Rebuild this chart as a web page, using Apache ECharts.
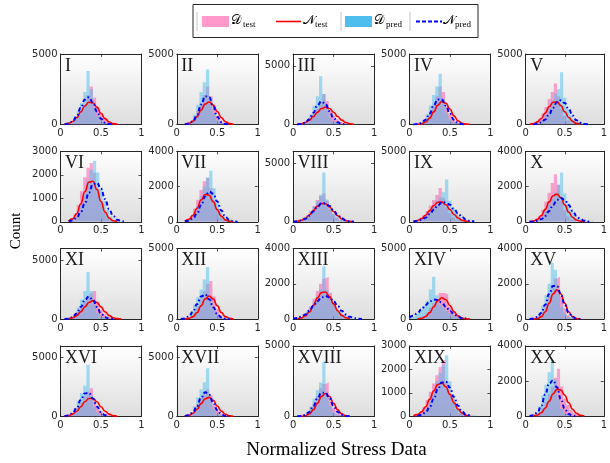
<!DOCTYPE html>
<html>
<head>
<meta charset="utf-8">
<script src="https://cdn.jsdelivr.net/npm/echarts@6/dist/echarts.min.js"></script>
<style>
  html, body { margin: 0; padding: 0; background: #fff; }
  #chart { width: 610px; height: 463px; }
</style>
</head>
<body>
<div id="chart"></div>
<script>
// panel names and y ranges
const panelNames = ['I', 'II', 'III', 'IV', 'V', 'VI', 'VII', 'VIII', 'IX', 'X',
  'XI', 'XII', 'XIII', 'XIV', 'XV', 'XVI', 'XVII', 'XVIII', 'XIX', 'XX'];
const yMaxes = [5000, 5000, 6000, 5000, 5000, 3000, 4000, 6000, 5000, 4000,
  6000, 5000, 4000, 5000, 4000, 6000, 6000, 5000, 3000, 4000];
const yTickSets = {
  3000: [0, 1000, 2000, 3000],
  4000: [0, 2000, 4000],
  5000: [0, 5000],
  6000: [0, 5000]
};

// histogram bin centres (bin width 0.04) and sample points of the normal fits
const binCenters = [0.02, 0.06, 0.10, 0.14, 0.18, 0.22, 0.26, 0.30, 0.34, 0.38, 0.42, 0.46, 0.50,
  0.54, 0.58, 0.62, 0.66, 0.70, 0.74, 0.78, 0.82, 0.86, 0.90, 0.94, 0.98];
const curveX = [0, 0.05, 0.1, 0.15, 0.2, 0.25, 0.3, 0.35, 0.4, 0.45, 0.5,
  0.55, 0.6, 0.65, 0.7, 0.75, 0.8, 0.85, 0.9, 0.95, 1];

// D_test histograms (counts per bin, missing bins are empty)
const testHist = [
  [0, 20, 60, 150, 320, 600, 950, 1400, 2100, 2700, 1900, 1200, 750, 420, 220, 120, 60, 30, 10],
  [0, 0, 20, 70, 220, 500, 950, 1500, 2100, 2700, 2000, 1100, 600, 280, 120, 50, 20, 8],
  [0, 20, 60, 150, 330, 600, 950, 1350, 1900, 2600, 2000, 1200, 750, 420, 220, 110, 50, 20, 5],
  [0, 0, 15, 50, 170, 420, 850, 1350, 2000, 2700, 2300, 1300, 700, 350, 150, 60, 25, 8],
  [0, 15, 55, 160, 400, 780, 1250, 1800, 2300, 2900, 2000, 1100, 600, 300, 130, 50, 20, 5],
  [0, 0, 30, 110, 320, 720, 1300, 1900, 2300, 2500, 2100, 1400, 800, 380, 140, 45, 10],
  [0, 0, 35, 130, 350, 750, 1250, 1800, 2300, 2500, 1900, 1100, 600, 260, 90, 30, 8],
  [10, 40, 110, 270, 550, 920, 1350, 1850, 2200, 2400, 1800, 1100, 650, 330, 150, 60, 25, 8],
  [0, 30, 85, 210, 440, 760, 1150, 1550, 1900, 2400, 1700, 1000, 600, 320, 140, 60, 25, 8],
  [0, 10, 45, 135, 330, 680, 1150, 1650, 2200, 2700, 2100, 1200, 650, 300, 130, 50, 15, 5],
  [0, 0, 35, 110, 280, 590, 1000, 1500, 1950, 2200, 2400, 1500, 800, 400, 160, 60, 20, 5],
  [0, 0, 10, 45, 165, 440, 900, 1450, 2000, 2500, 2700, 1600, 700, 270, 90, 25, 5],
  [0, 15, 55, 165, 390, 740, 1150, 1600, 2000, 2300, 2400, 1500, 850, 450, 200, 70, 20, 5],
  [0, 0, 12, 55, 175, 430, 820, 1150, 1400, 1850, 1850, 1750, 900, 500, 220, 80, 20, 5],
  [0, 0, 5, 30, 130, 390, 850, 1400, 1950, 2300, 2400, 1300, 600, 200, 60, 15],
  [0, 18, 65, 180, 420, 780, 1200, 1700, 2100, 2400, 1500, 800, 420, 190, 70, 20, 5],
  [0, 0, 22, 85, 250, 580, 1050, 1600, 2000, 2300, 1800, 950, 450, 180, 60, 15, 3],
  [0, 0, 10, 48, 170, 450, 900, 1450, 2000, 2300, 2400, 1300, 600, 200, 60, 15, 5],
  [0, 25, 70, 180, 390, 700, 1050, 1400, 1750, 2100, 2400, 1500, 950, 580, 300, 140, 55, 18, 5],
  [0, 0, 20, 70, 200, 450, 830, 1250, 1700, 2200, 2700, 1700, 1000, 650, 350, 160, 65, 20, 5]
];

// D_pred histograms
const predHist = [
  [0, 10, 50, 180, 450, 950, 1500, 2300, 3800, 2500, 1200, 600, 300, 120, 60, 30, 15, 5],
  [0, 0, 10, 50, 220, 700, 1400, 2300, 3000, 3900, 1900, 800, 300, 100, 40, 15, 5],
  [0, 5, 30, 130, 400, 900, 1600, 2400, 4100, 2600, 1300, 600, 250, 100, 40, 15, 5],
  [0, 5, 25, 100, 320, 750, 1350, 2100, 2700, 3600, 1800, 800, 380, 160, 80, 40, 15, 5],
  [0, 0, 10, 40, 130, 330, 680, 1150, 1700, 2200, 2500, 3700, 1900, 1100, 650, 350, 180, 100, 60, 30, 15],
  [0, 0, 15, 55, 160, 390, 780, 1250, 1750, 2200, 2600, 2100, 1400, 900, 500, 230, 90, 30, 8],
  [0, 0, 12, 55, 180, 460, 900, 1450, 2000, 2500, 2900, 1900, 1100, 620, 300, 150, 90, 40, 10],
  [10, 35, 95, 240, 500, 860, 1300, 1750, 2300, 4200, 1900, 1150, 700, 380, 180, 80, 35, 10],
  [0, 15, 50, 125, 270, 500, 830, 1150, 1500, 1750, 2100, 3000, 1500, 1000, 650, 380, 200, 100, 50, 20, 8],
  [0, 5, 18, 55, 145, 320, 600, 950, 1300, 1650, 2100, 2800, 1600, 1050, 700, 400, 220, 120, 60, 30, 12],
  [0, 5, 35, 150, 440, 980, 1650, 2400, 4000, 2400, 1200, 500, 180, 60, 20, 5],
  [0, 8, 45, 175, 500, 1020, 1550, 2100, 2800, 3700, 1500, 700, 300, 100, 30, 8],
  [20, 55, 125, 250, 450, 700, 980, 1300, 1700, 3000, 1650, 1150, 850, 600, 400, 230, 120, 60, 25, 10, 5],
  [100, 220, 400, 650, 950, 1300, 2100, 3000, 1700, 1000, 800, 600, 400, 250, 120, 50, 20, 5],
  [0, 5, 28, 110, 340, 780, 1350, 2000, 3200, 2800, 1400, 700, 300, 120, 50, 20, 5],
  [0, 15, 75, 270, 700, 1350, 2000, 2600, 4400, 1800, 800, 320, 100, 25, 5],
  [0, 0, 18, 90, 330, 860, 1600, 2300, 2900, 4100, 1700, 600, 180, 50, 12, 3],
  [0, 5, 25, 100, 300, 700, 1250, 1850, 2400, 3900, 1500, 700, 320, 120, 60, 30, 10],
  [0, 0, 15, 55, 160, 380, 720, 1100, 1500, 1850, 2200, 2600, 1500, 900, 500, 250, 120, 60, 50, 40, 20],
  [0, 10, 55, 210, 580, 1200, 1800, 2500, 3200, 2100, 1000, 420, 140, 35, 8]
];

// N_test normal fits, read at curveX (null = not drawn)
const testNormal = [
  [null, 24, 80, 216, 485, 883, 1307, 1574, 1541, 1229, 797, 419, 180, 63, 18],
  [null, null, 21, 80, 239, 559, 1019, 1446, 1598, 1376, 922, 481, 196, 62, 15],
  [null, 21, 65, 168, 369, 677, 1046, 1357, 1480, 1357, 1046, 677, 369, 168, 65, 21],
  [null, null, 13, 56, 181, 456, 895, 1369, 1632, 1514, 1094, 615, 269, 92, 25, 5],
  [null, 18, 64, 184, 430, 817, 1260, 1579, 1613, 1340, 905, 497, 221, 80, 24],
  [null, null, 35, 125, 348, 756, 1278, 1683, 1725, 1378, 857, 415, 157, 46, 11],
  [null, null, 41, 141, 373, 769, 1237, 1548, 1510, 1147, 679, 313, 112, 32, 7],
  [14, 46, 126, 296, 579, 959, 1334, 1558, 1531, 1264, 878, 514, 251, 104, 36, 10],
  [null, 33, 94, 227, 465, 795, 1144, 1386, 1410, 1207, 868, 523, 267, 114, 41, 12],
  [null, 13, 49, 146, 356, 703, 1131, 1479, 1573, 1362, 959, 548, 255, 98, 30, 8],
  [null, null, 38, 119, 300, 619, 1039, 1416, 1570, 1416, 1039, 619, 300, 119, 38, 10],
  [null, null, 11, 51, 179, 470, 942, 1428, 1640, 1428, 942, 470, 179, 51, 11],
  [null, 17, 61, 175, 409, 777, 1198, 1502, 1535, 1275, 861, 473, 211, 76, 23],
  [null, null, 14, 59, 186, 457, 876, 1307, 1518, 1374, 968, 531, 227, 76, 20, 4],
  [null, null, 6, 35, 141, 413, 896, 1423, 1660, 1423, 896, 413, 141, 35, 6],
  [null, 20, 69, 193, 443, 823, 1245, 1529, 1529, 1245, 823, 443, 193, 69, 20],
  [null, null, 24, 91, 267, 611, 1087, 1504, 1622, 1361, 890, 453, 179, 55, 13],
  [null, null, 11, 51, 177, 465, 930, 1411, 1620, 1411, 930, 465, 177, 51, 11],
  [null, 26, 77, 194, 409, 724, 1080, 1353, 1425, 1261, 939, 588, 309, 137, 51, 16],
  [null, null, 23, 76, 211, 473, 861, 1275, 1535, 1502, 1198, 777, 409, 175, 61, 17]
];

// N_pred normal fits
const predNormal = [
  [null, 11, 56, 211, 581, 1183, 1767, 1938, 1561, 925, 402, 128, 30, 5],
  [null, null, 7, 47, 217, 672, 1411, 2006, 1930, 1256, 553, 164, 34, 4],
  [null, 6, 36, 146, 449, 997, 1635, 1966, 1738, 1129, 538, 189, 49, 9],
  [null, 6, 29, 114, 344, 786, 1358, 1781, 1772, 1336, 764, 331, 109, 28, 5],
  [null, null, 12, 47, 144, 357, 721, 1185, 1582, 1718, 1518, 1090, 637, 302, 117, 37, 9],
  [null, null, 16, 58, 170, 407, 787, 1239, 1588, 1655, 1403, 967, 543, 247, 92, 28, 7],
  [null, null, 14, 58, 189, 478, 939, 1436, 1711, 1588, 1147, 645, 282, 96, 26, 5],
  [11, 36, 105, 254, 520, 889, 1280, 1551, 1578, 1351, 971, 586, 299, 128, 46, 14],
  [null, 20, 56, 137, 293, 537, 850, 1159, 1363, 1383, 1211, 914, 595, 335, 162, 67, 24],
  [null, 5, 19, 59, 154, 337, 618, 954, 1238, 1350, 1238, 954, 618, 337, 154, 59, 19, 5],
  [null, 7, 40, 162, 476, 1031, 1637, 1910, 1637, 1031, 476, 162, 40, 7],
  [null, 10, 50, 191, 525, 1068, 1594, 1749, 1409, 834, 363, 116, 27, 5],
  [22, 58, 132, 266, 471, 739, 1015, 1229, 1310, 1229, 1015, 739, 471, 266, 132, 58, 22, 7],
  [112, 234, 430, 699, 1000, 1257, 1392, 1357, 1165, 879, 585, 342, 176, 80, 32],
  [null, 6, 30, 118, 357, 817, 1422, 1874, 1874, 1422, 817, 357, 118, 30, 6],
  [null, 16, 78, 278, 727, 1388, 1949, 2010, 1522, 847, 346, 104, 23],
  [null, null, 19, 97, 350, 892, 1605, 2046, 1844, 1176, 531, 169, 38, 6],
  [null, 5, 27, 106, 320, 733, 1275, 1681, 1681, 1275, 733, 320, 106, 27, 5],
  [null, null, 17, 59, 168, 393, 747, 1152, 1444, 1476, 1226, 828, 455, 203, 74, 22],
  [null, 12, 59, 222, 614, 1250, 1866, 2048, 1648, 976, 424, 136, 32, 6]
];

const chart = echarts.init(document.getElementById('chart'));

const axisColor = '#262626';
const panelLeft = 60.5, panelTop = 54, panelW = 81, panelH = 70.5;
const stepX = 116.3, stepY = 97.3;

function histData(h) {
  const d = [[0, h[0] || 0]];
  binCenters.forEach((c, i) => d.push([c, h[i] || 0]));
  d.push([1, h[binCenters.length - 1] || 0]);
  return d;
}

function curveData(v) {
  const d = [];
  curveX.forEach((x, i) => {
    if (v[i] != null) d.push([x, v[i]]);
  });
  return d;
}

const grids = [], xAxes = [], yAxes = [], series = [], graphics = [];

panelNames.forEach((name, k) => {
  const left = panelLeft + (k % 5) * stepX;
  const top = panelTop + Math.floor(k / 5) * stepY;
  const yt = yTickSets[yMaxes[k]];
  const line = { show: true, onZero: false, lineStyle: { color: axisColor, width: 1 } };
  const tick = { show: true, inside: true, length: 3, lineStyle: { color: axisColor, width: 0.8 } };
  const label = { fontFamily: 'DejaVu Sans', fontSize: 10, color: axisColor, formatter: v => String(v) };

  grids.push({
    left: left, top: top, width: panelW, height: panelH,
    show: true, borderWidth: 0,
    backgroundColor: new echarts.graphic.LinearGradient(0, 0, 0, 1, [
      { offset: 0, color: '#ffffff' },
      { offset: 1, color: '#dedede' }
    ])
  });

  xAxes.push({
    gridIndex: k, type: 'value', min: 0, max: 1, interval: 0.5,
    axisLine: line, axisTick: tick, splitLine: { show: false },
    axisLabel: Object.assign({ margin: 4 }, label)
  });
  xAxes.push({
    gridIndex: k, type: 'value', position: 'top', min: 0, max: 1, interval: 0.5,
    axisLine: line, axisTick: tick, splitLine: { show: false },
    axisLabel: { show: false }
  });
  yAxes.push({
    gridIndex: k, type: 'value', min: 0, max: yMaxes[k],
    axisLine: line, splitLine: { show: false },
    axisTick: Object.assign({ customValues: yt }, tick),
    axisLabel: Object.assign({ margin: 3, customValues: yt }, label)
  });
  yAxes.push({
    gridIndex: k, type: 'value', position: 'right', min: 0, max: yMaxes[k],
    axisLine: line, splitLine: { show: false },
    axisTick: Object.assign({ customValues: yt }, tick),
    axisLabel: { show: false }
  });

  const ax = { xAxisIndex: 2 * k, yAxisIndex: 2 * k, symbol: 'none', silent: true };
  series.push(Object.assign({
    type: 'line', name: 'D_test', step: 'middle',
    lineStyle: { width: 0, opacity: 0 },
    areaStyle: { color: '#ff3399', opacity: 0.42 },
    data: histData(testHist[k])
  }, ax));
  series.push(Object.assign({
    type: 'line', name: 'N_test', smooth: true, smoothMonotone: 'x',
    lineStyle: { color: '#ff0000', width: 1.6 },
    data: curveData(testNormal[k])
  }, ax));
  series.push(Object.assign({
    type: 'line', name: 'D_pred', step: 'middle',
    lineStyle: { width: 0, opacity: 0 },
    areaStyle: { color: '#4dbeee', opacity: 0.5 },
    data: histData(predHist[k])
  }, ax));
  series.push(Object.assign({
    type: 'line', name: 'N_pred', smooth: true, smoothMonotone: 'x',
    lineStyle: { color: '#0000ff', width: 2, type: [4, 2.5, 1.5, 2.5] },
    data: curveData(predNormal[k])
  }, ax));

  graphics.push({
    type: 'text', x: left + 4.5, y: top + 3, z: 100,
    style: { text: name, font: '18px "Liberation Serif"', fill: '#1a1a1a', verticalAlign: 'top' }
  });
});

// legend box
graphics.push({
  type: 'rect', z: 100, shape: { x: 193, y: 4.5, width: 285, height: 33 },
  style: { fill: '#ffffff', stroke: axisColor, lineWidth: 1 }
});
[197, 341, 410].forEach(x => graphics.push({
  type: 'line', z: 101, shape: { x1: x, y1: 12, x2: x, y2: 31 },
  style: { stroke: '#c4c4c4', lineWidth: 1 }
}));
graphics.push({ type: 'rect', z: 101, shape: { x: 202, y: 16, width: 27, height: 11 }, style: { fill: '#ff99cc' } });
graphics.push({ type: 'rect', z: 101, shape: { x: 345, y: 16, width: 27, height: 11 }, style: { fill: '#4dbeee' } });
graphics.push({
  type: 'line', z: 101, shape: { x1: 276, y1: 21.5, x2: 301, y2: 21.5 },
  style: { stroke: '#ff0000', lineWidth: 1.6 }
});
graphics.push({
  type: 'line', z: 101, shape: { x1: 416, y1: 21.5, x2: 442, y2: 21.5 },
  style: { stroke: '#0000ff', lineWidth: 2, lineDash: [4, 2] }
});
[[231, '\u{1D49F}', 'test'], [303, '\u{1D4A9}', 'test'], [374, '\u{1D49F}', 'pred'], [443, '\u{1D4A9}', 'pred']]
  .forEach(([x, sym, sub]) => {
    graphics.push({
      type: 'text', z: 101, x: x, y: 21,
      style: { text: sym, font: '13px "DejaVu Serif"', fill: '#000', verticalAlign: 'middle' }
    });
    graphics.push({
      type: 'text', z: 101, x: x + 12, y: 25,
      style: { text: sub, font: '9px "Liberation Serif"', fill: '#000', verticalAlign: 'middle' }
    });
  });

// axis titles
graphics.push({
  type: 'text', x: 16, y: 231, rotation: Math.PI / 2,
  style: { text: 'Count', font: '15px "Liberation Serif"', fill: '#000', align: 'center', verticalAlign: 'middle' }
});
graphics.push({
  type: 'text', x: 336.5, y: 450,
  style: { text: 'Normalized Stress Data', font: '19px "Liberation Serif"', fill: '#000', align: 'center', verticalAlign: 'middle' }
});

chart.setOption({
  animation: false,
  grid: grids,
  xAxis: xAxes,
  yAxis: yAxes,
  series: series,
  graphic: graphics
});
</script>
</body>
</html>
